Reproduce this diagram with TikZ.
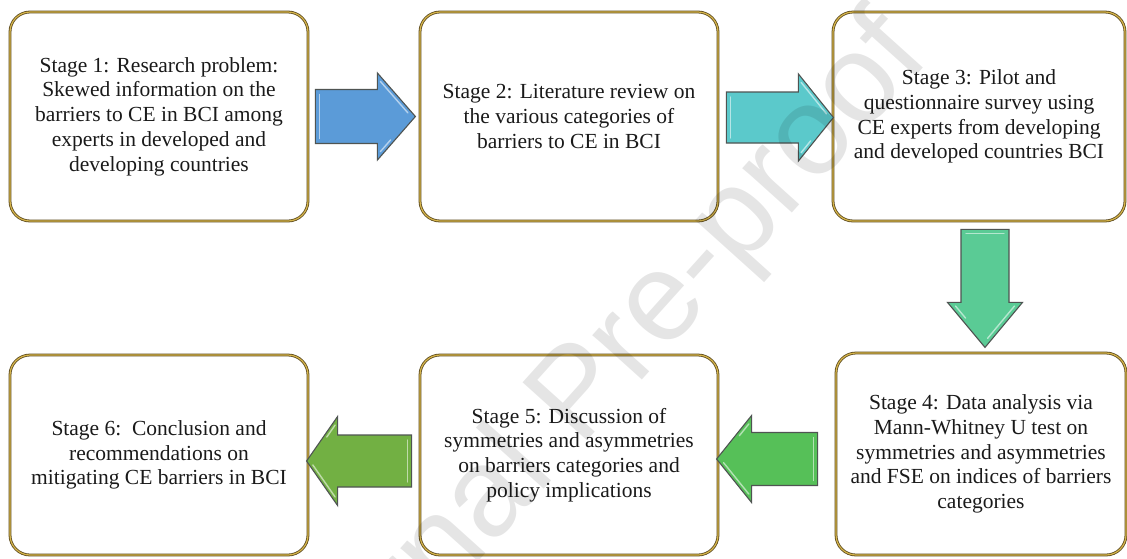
\documentclass[tikz,border=0pt]{standalone}
\usepackage{fontspec}
\setmainfont{Liberation Serif}
\newfontfamily\wmfont{Liberation Sans}
\usetikzlibrary{calc}
\definecolor{boxdark}{HTML}{5C4A1E}
\definecolor{boxgold}{HTML}{D6B54A}
\definecolor{txt}{HTML}{1A1A1A}
\definecolor{arrline}{HTML}{4F5452}
\definecolor{cblue}{HTML}{5B9BD8}
\definecolor{cteal}{HTML}{5BC9CB}
\definecolor{cmint}{HTML}{5ACB95}
\definecolor{cgreen}{HTML}{56C058}
\definecolor{colive}{HTML}{72B043}

% #1 start coordinate, #2 rotation, #3 length, #4 shaft half width,
% #5 head half width, #6 head length, #7 fill colour
\newcommand{\BlockArrow}[7]{%
  \begin{scope}[shift={(#1)}, rotate=#2]
    \draw[arrline, line width=1.1pt, line join=miter, fill=#7]
      (0,-#4) -- ({#3-#6},-#4) -- ({#3-#6},-#5) -- (#3,0)
      -- ({#3-#6},#5) -- ({#3-#6},#4) -- (0,#4) -- cycle;
    \draw[white, opacity=0.55, line width=1.4pt, line cap=round]
      (4,{-#4+5}) -- (4,{#4-5});
    \draw[white, opacity=0.55, line width=1.4pt, line cap=round]
      ({#3-#6+0.08*#6},{-(#5*0.92-5)}) -- ({#3-#6+0.8*#6},{-(#5*0.2-5)});
    \draw[white, opacity=0.55, line width=1.4pt, line cap=round]
      ({#3-#6+0.08*#6},{#5*0.92-5}) -- ({#3-#6+0.35*#6},{#5*0.65-5});
  \end{scope}}

\tikzset{
  stagebox/.style={draw=boxdark, line width=0.8pt, double=boxgold,
    double distance=1.2pt, rounded corners=20pt, inner sep=0pt,
    align=center, text=txt, font=\fontsize{21.5}{24.7}\selectfont},
  watermark/.style={rotate=48, text=black, opacity=0.1,
    font=\wmfont\fontsize{126}{126}\selectfont}
}

\begin{document}
\begin{tikzpicture}[x=1pt, y=-1pt]
\useasboundingbox (0,0) rectangle (1127,558);
\fill[white] (0,0) rectangle (1127,558);

\node[stagebox, minimum width=298pt, minimum height=209pt] (b1) at (159,116.5)
  {Stage 1: Research problem:\\ Skewed information on the\\ barriers to CE in BCI among\\ experts in developed and\\ developing countries};
\node[stagebox, minimum width=298pt, minimum height=209pt] (b2) at (569,116.5)
  {Stage 2: Literature review on\\ the various categories of\\ barriers to CE in BCI};
\node[stagebox, minimum width=292pt, minimum height=209pt] (b3) at (979,116.5)
  {Stage 3: Pilot and\\ questionnaire survey using\\ CE experts from developing\\ and developed countries BCI};
\node[stagebox, minimum width=290pt, minimum height=202pt] (b4) at (981,454)
  {Stage 4: Data analysis via\\ Mann-Whitney U test on\\ symmetries and asymmetries\\ and FSE on indices of barriers\\ categories};
\node[stagebox, minimum width=298pt, minimum height=200pt] (b5) at (569,455)
  {Stage 5: Discussion of\\ symmetries and asymmetries\\ on barriers categories and\\ policy implications};
\node[stagebox, minimum width=298pt, minimum height=200pt] (b6) at (159,455)
  {Stage 6:~~Conclusion and\\ recommendations on\\ mitigating CE barriers in BCI};

\coordinate (a1s) at ($(b1.east)+(7,0)$);
\coordinate (a2s) at ($(b2.east)+(8,1)$);
\coordinate (a3s) at ($(b3.south)+(6,8)$);
\coordinate (a4s) at ($(b4.west)+(-18,5)$);
\coordinate (a5s) at ($(b5.west)+(-8,6)$);

\BlockArrow{a1s}{0}{100}{27}{43.5}{38}{cblue}
\BlockArrow{a2s}{0}{107}{25.5}{43.5}{35}{cteal}
\BlockArrow{a3s}{-90}{118}{24}{37.5}{45}{cmint}
\BlockArrow{a4s}{180}{101}{26.5}{43.5}{35}{cgreen}
\BlockArrow{a5s}{180}{105}{26}{44.5}{31}{colive}

\node[watermark] (wm) at (582,398) {Journal Pre-proof};
\end{tikzpicture}
\end{document}
